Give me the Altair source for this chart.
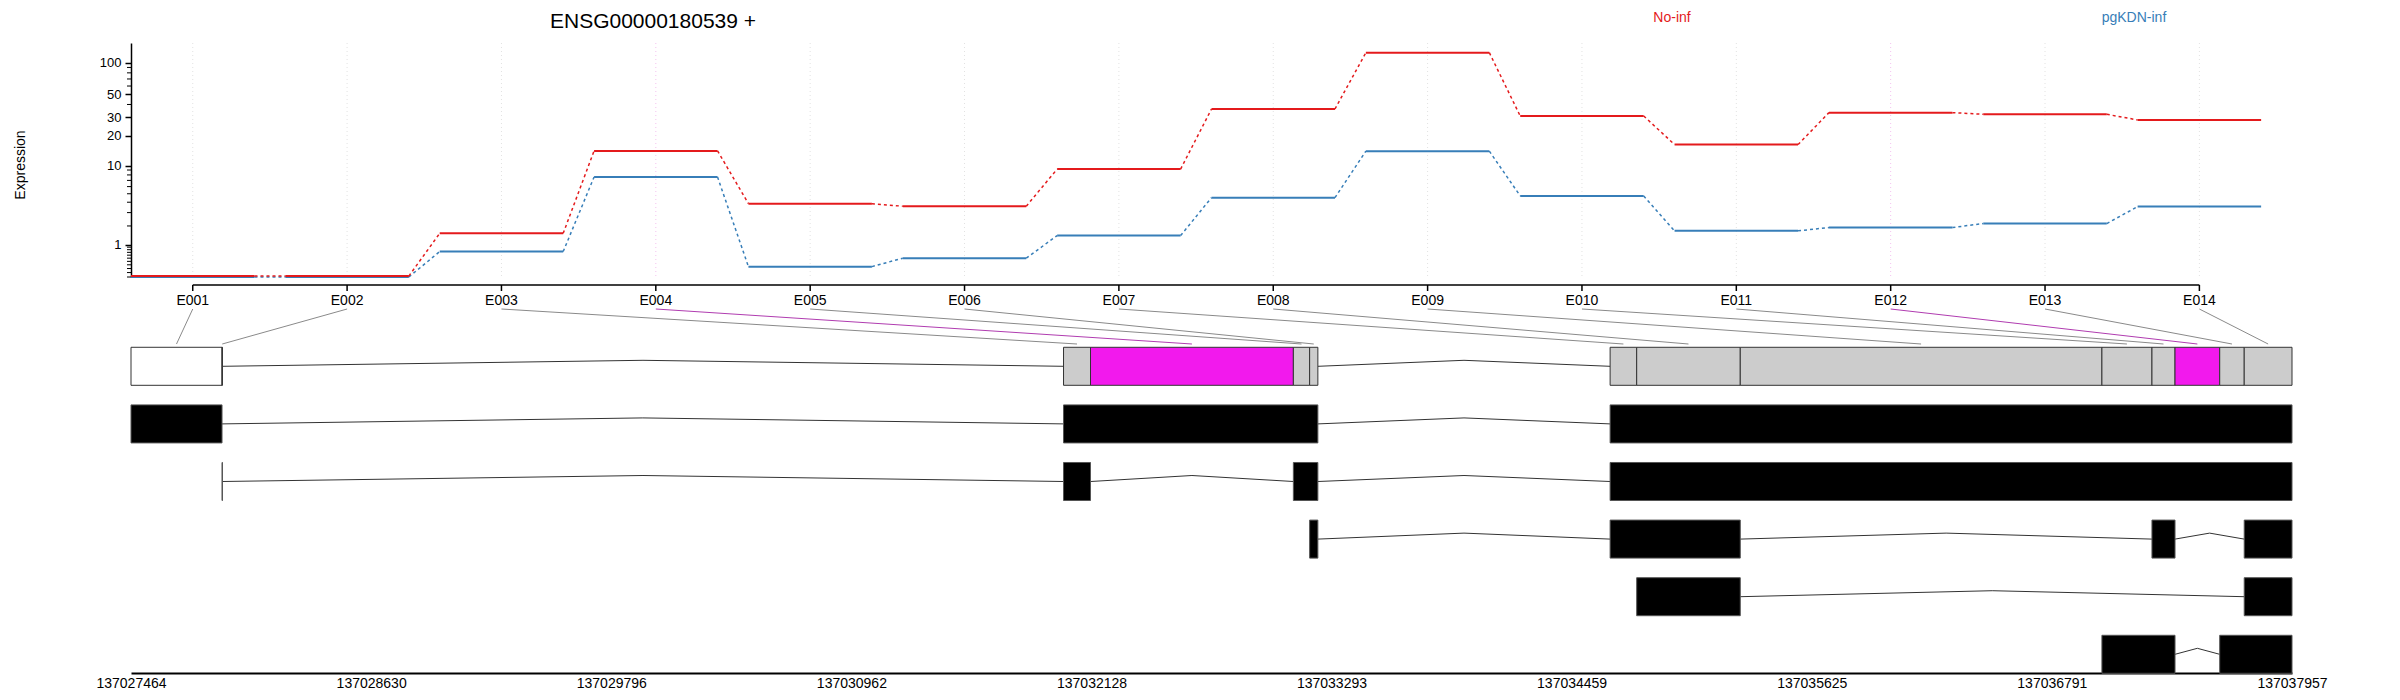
import altair as alt
import pandas as pd

# ---------------- data ----------------
exon_ids = ["E001", "E002", "E003", "E004", "E005", "E006", "E007",
            "E008", "E009", "E010", "E011", "E012", "E013", "E014"]
noinf = [0.02, 0.02, 1.56, 14.1, 3.85, 3.59, 9.2, 36.2, 124.0, 31.0, 16.3, 33.4, 32.2, 28.4]
pgkdn = [0.0, 0.0, 0.73, 7.6, 0.25, 0.50, 1.44, 4.52, 14.0, 4.73, 1.70, 1.90, 2.16, 3.55]
bin_status = ["untested", "untested", "tested", "signif", "tested", "tested", "tested",
              "tested", "tested", "tested", "tested", "signif", "tested", "tested"]
bin_start = [137027464, 137027906, 137031992, 137032123, 137033108, 137033187, 137034646,
             137034775, 137035278, 137037034, 137037277, 137037389, 137037606, 137037725]
bin_end = [137027906, 137027908, 137032123, 137033108, 137033187, 137033227, 137034775,
           137035278, 137037034, 137037277, 137037389, 137037606, 137037725, 137037957]

# transcript models (row 1..5 under the exon-bin row)
tx_row = [1, 1, 1,
          2, 2, 2, 2,
          3, 3, 3, 3,
          4, 4,
          5, 5]
tx_start = [137027464, 137031992, 137034646,
            137027906, 137031992, 137033108, 137034646,
            137033187, 137034646, 137037277, 137037725,
            137034775, 137037725,
            137037034, 137037606]
tx_end = [137027906, 137033227, 137037957,
          137027908, 137032123, 137033227, 137037957,
          137033227, 137035278, 137037389, 137037957,
          137035278, 137037957,
          137037389, 137037957]

genome_ticks = [137027464, 137028630, 137029796, 137030962, 137032128,
                137033293, 137034459, 137035625, 137036791, 137037957]
major_ticks = [1, 10, 20, 30, 50, 100]
minor_ticks = [0, 0.1, 0.2, 0.3, 0.4, 0.5, 0.6, 0.7, 0.8, 0.9,
               2, 3, 4, 5, 6, 7, 8, 9, 40, 60, 70, 80, 90]

gene_title = "ENSG00000180539 +"
conditions = ["pgKDN-inf", "No-inf"]
cond_colors = ["#377EB8", "#E41A1C"]

# ---------------- scales / layout ----------------
W, H = 2161, 630
G0, G1 = genome_ticks[0], genome_ticks[-1]
IDX0, IDX1 = 0.6, 14.6
UP_H = 234
HALF = 0.33
HAT = 0.104

X_IDX = alt.Scale(domain=[IDX0, IDX1], zero=False, nice=False)
X_GEN = alt.Scale(domain=[G0, G1], zero=False, nice=False)
Y_EXP = alt.Scale(type="symlog", constant=1, domain=[0, 153], range=[UP_H, 0], zero=False, nice=False)
Y_ROW = alt.Scale(domain=[0, 5], range=[323.3, 611.3], zero=False, nice=False)
COND = alt.Scale(domain=conditions, range=cond_colors)
FONT = "Liberation Sans"

idx = list(range(1, len(exon_ids) + 1))
exons = pd.DataFrame({"idx": idx, "name": exon_ids, "status": bin_status,
                      "start": bin_start, "end": bin_end})
exons["mid"] = (exons["start"] + exons["end"]) / 2
exons["gtop"] = G0 + (exons["idx"] - IDX0) / (IDX1 - IDX0) * (G1 - G0)
exons["y0"] = -HALF
exons["y1"] = HALF

seg_rows, con_rows = [], []
for cond, vals in zip(conditions, [pgkdn, noinf]):
    for i, v in enumerate(vals):
        seg_rows.append({"cond": cond, "x0": idx[i] - 0.4, "x1": idx[i] + 0.4, "v": v})
        if i + 1 < len(vals):
            con_rows.append({"cond": cond, "xa": idx[i] + 0.4, "xb": idx[i + 1] - 0.4,
                             "va": v, "vb": vals[i + 1]})
segs = pd.DataFrame(seg_rows)
cons = pd.DataFrame(con_rows)

tx = pd.DataFrame({"row": tx_row, "start": tx_start, "end": tx_end})
tx["y0"] = tx["row"] - HALF
tx["y1"] = tx["row"] + HALF

# intron hats
blocks = {0: []}
for s, e in zip(bin_start, bin_end):
    if blocks[0] and blocks[0][-1][1] >= s:
        blocks[0][-1][1] = e
    else:
        blocks[0].append([s, e])
for r, s, e in zip(tx_row, tx_start, tx_end):
    blocks.setdefault(r, []).append([s, e])
intr = []
for r, bl in blocks.items():
    bl = sorted(bl)
    for a, b in zip(bl[:-1], bl[1:]):
        if a[1] < b[0]:
            m = (a[1] + b[0]) / 2
            intr.append({"xa": a[1], "xb": m, "ya": r, "yb": r - HAT})
            intr.append({"xa": m, "xb": b[0], "ya": r - HAT, "yb": r})
introns = pd.DataFrame(intr)

eaxis = pd.DataFrame({"a": [min(idx)], "b": [max(idx)]})
minor = pd.DataFrame({"v": minor_ticks})

sig = "datum.status == 'signif'"

# ---------------- upper panel ----------------
grid = alt.Chart(exons).mark_rule(strokeDash=[1, 3], strokeWidth=1).encode(
    x=alt.X("idx:Q", scale=X_IDX, axis=None),
    y=alt.value(0), y2=alt.value(UP_H),
    color=alt.condition(sig, alt.value("#f4c2ef"), alt.value("#e2e2e2")),
)

seg_layer = alt.Chart(segs).mark_rule(strokeWidth=2).encode(
    x=alt.X("x0:Q", scale=X_IDX, axis=None),
    x2="x1:Q",
    y=alt.Y("v:Q", scale=Y_EXP, axis=alt.Axis(
        orient="left", values=major_ticks, format="d", title=None, grid=False,
        tickSize=6, tickWidth=1.5, tickColor="black", domainColor="black", domainWidth=1.5,
        labelFontSize=13, labelFont=FONT, labelColor="black", labelPadding=4,
        labelFlush=False, labelOverlap=False)),
    color=alt.Color("cond:N", scale=COND, legend=None),
)

con_layer = alt.Chart(cons).mark_rule(strokeWidth=1.5, strokeDash=[3, 3]).encode(
    x=alt.X("xa:Q", scale=X_IDX, axis=None),
    x2="xb:Q",
    y=alt.Y("va:Q", scale=Y_EXP, axis=None),
    y2="vb:Q",
    color=alt.Color("cond:N", scale=COND, legend=None),
)

minor_layer = alt.Chart(minor).mark_rule(strokeWidth=1, color="black").encode(
    y=alt.Y("v:Q", scale=Y_EXP, axis=None),
    x=alt.value(-4), x2=alt.value(0),
)

# exon axis (E001..E014)
eline = alt.Chart(eaxis).mark_rule(strokeWidth=1.5, color="black").encode(
    x=alt.X("a:Q", scale=X_IDX, axis=None), x2="b:Q", y=alt.value(242))
eticks = alt.Chart(exons).mark_rule(strokeWidth=1.5, color="black").encode(
    x=alt.X("idx:Q", scale=X_IDX, axis=None), y=alt.value(242), y2=alt.value(248))
elabels = alt.Chart(exons).mark_text(fontSize=14, baseline="top", font=FONT, color="black").encode(
    x=alt.X("idx:Q", scale=X_IDX, axis=None), y=alt.value(251), text="name:N")

# ---------------- lower panel ----------------
links = alt.Chart(exons).mark_rule(strokeWidth=1).encode(
    x=alt.X("gtop:Q", scale=X_GEN, axis=None),
    x2="mid:Q",
    y=alt.value(266), y2=alt.value(301),
    color=alt.condition(sig, alt.value("#b03cb0"), alt.value("#8a8a8a")),
)

intron_layer = alt.Chart(introns).mark_rule(strokeWidth=1, color="#333333").encode(
    x=alt.X("xa:Q", scale=X_GEN, axis=None), x2="xb:Q",
    y=alt.Y("ya:Q", scale=Y_ROW, axis=None), y2="yb:Q",
)

bins = alt.Chart(exons).mark_rect(stroke="#333333", strokeWidth=1).encode(
    x=alt.X("start:Q", scale=X_GEN, axis=alt.Axis(
        orient="bottom", values=genome_ticks, format="d", title=None, grid=False,
        ticks=False, tickSize=0, domainColor="black", domainWidth=2,
        labelFontSize=14, labelFont=FONT, labelColor="black", labelPadding=3,
        labelFlush=False, labelOverlap=False)),
    x2="end:Q",
    y=alt.Y("y0:Q", scale=Y_ROW, axis=None), y2="y1:Q",
    fill=alt.Fill("status:N", scale=alt.Scale(domain=["untested", "tested", "signif"],
                                              range=["#FFFFFF", "#CCCCCC", "#F219ED"]),
                  legend=None),
)

tx_layer = alt.Chart(tx).mark_rect(fill="black", stroke="#555555", strokeWidth=1).encode(
    x=alt.X("start:Q", scale=X_GEN, axis=None), x2="end:Q",
    y=alt.Y("y0:Q", scale=Y_ROW, axis=None), y2="y1:Q",
)

# ---------------- texts ----------------
def label(txt, x, y, size, color, angle=0):
    return alt.Chart(pd.DataFrame({"t": [txt]})).mark_text(
        fontSize=size, font=FONT, color=color, baseline="middle", align="center", angle=angle
    ).encode(x=alt.value(x), y=alt.value(y), text="t:N")

title = label(gene_title, 522, -21, 21, "black")
leg1 = label(conditions[1], 1541, -25, 14, cond_colors[1])
leg2 = label(conditions[0], 2003, -25, 14, cond_colors[0])
ylab = label("Expression", -110, 122, 14, "black", angle=270)

chart = alt.layer(
    grid, con_layer, seg_layer, minor_layer, eline, eticks, elabels,
    links, intron_layer, bins, tx_layer, title, leg1, leg2, ylab,
).resolve_scale(
    x="independent", y="independent", color="independent", fill="independent"
).properties(
    width=W, height=H,
    autosize=alt.AutoSizeParams(type="none"),
    padding={"left": 123, "top": 35, "right": 50, "bottom": 25},
).configure(font=FONT).configure_view(stroke="transparent")

chart.save("out.html", embed_options={"renderer": "svg", "actions": False})
